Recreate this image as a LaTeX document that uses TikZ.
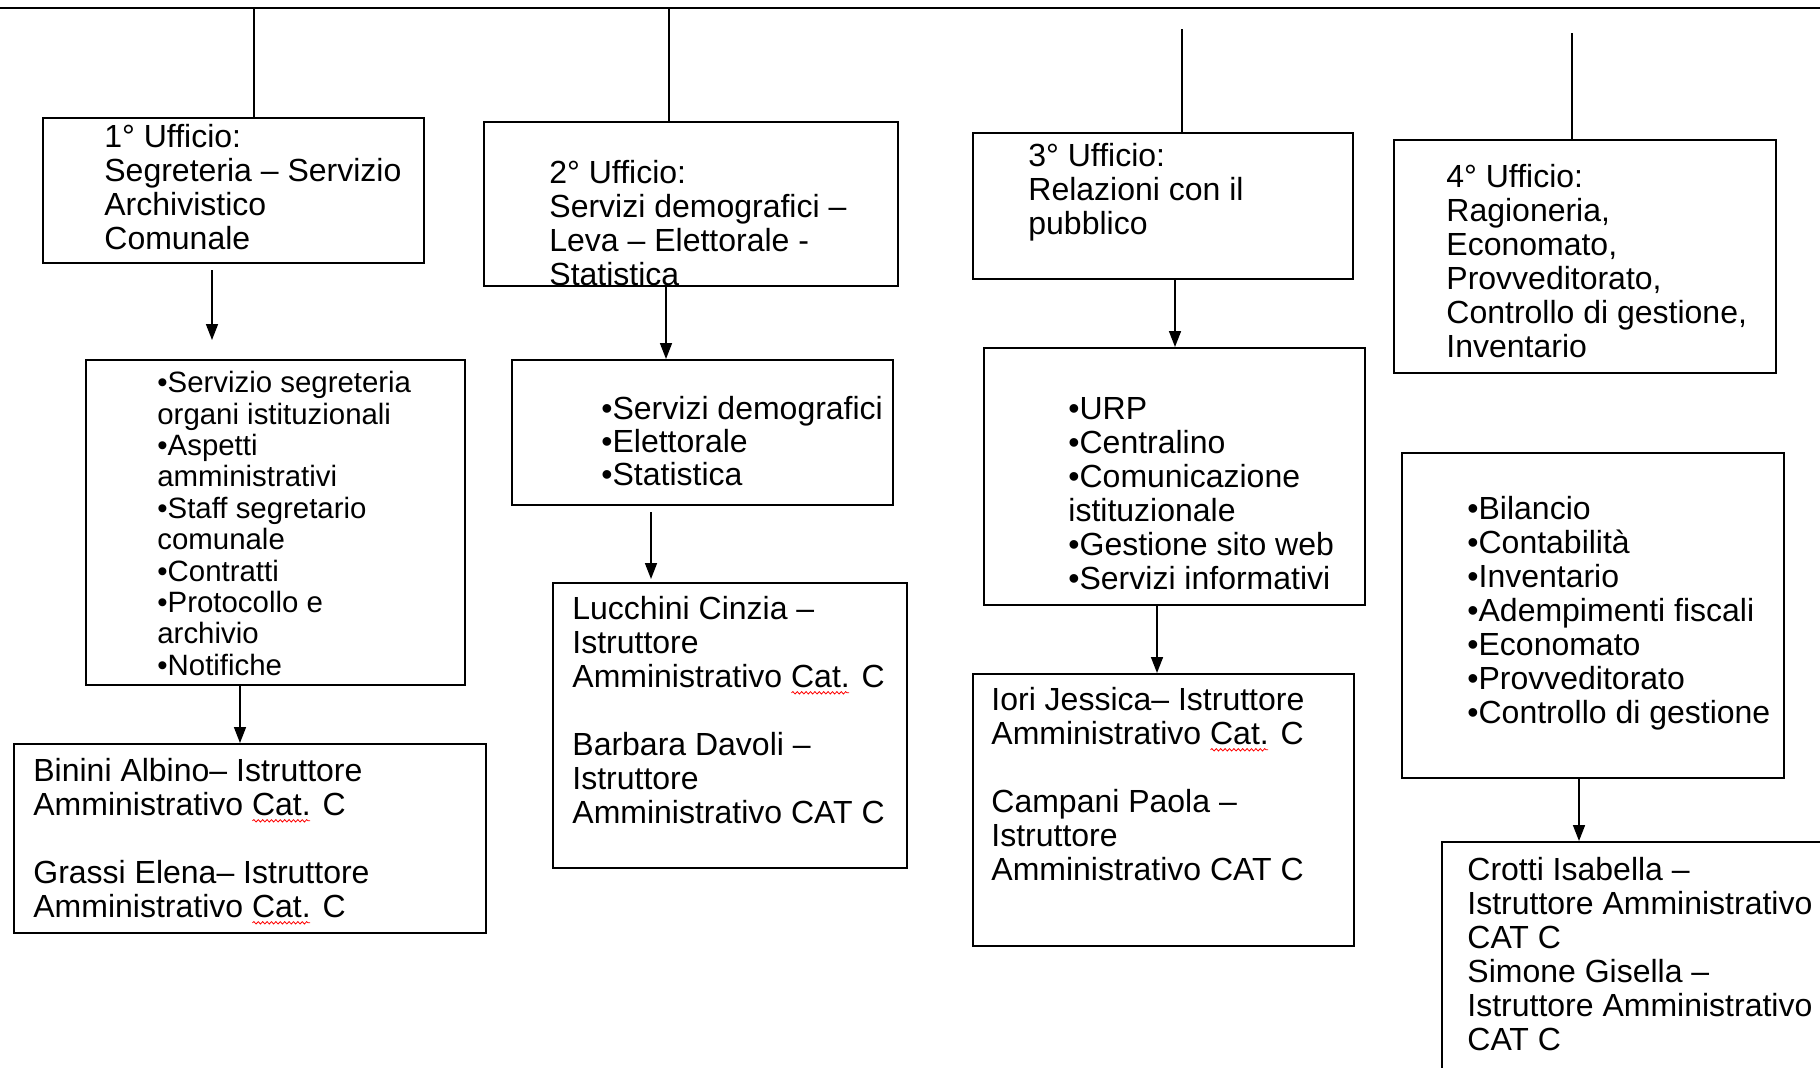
\documentclass[tikz,border=0pt]{standalone}
\usepackage{fontspec}
\setmainfont{Liberation Sans}
\usetikzlibrary{arrows.meta}
\usetikzlibrary{fit}
\usetikzlibrary{decorations.pathmorphing}
\tikzset{
	ufficio/.style={draw, line width=1pt, inner sep=0pt},
	uftext/.style={anchor=north west, inner sep=0pt, align=left, font=\fontsize{16}{17}\selectfont},
	collega/.style={line width=0.8pt},
	freccia/.style={line width=0.8pt, -{Triangle[length=8pt,width=6pt]}},
	ondina/.style={red, line width=0.4pt, decorate, decoration={snake, amplitude=0.6pt, segment length=2.2pt}}
}
\newlength{\spellwd}
\newcommand{\spellcat}[1]{\settowidth{\spellwd}{#1}\rlap{\tikz[baseline=0pt, x=1pt, y=1pt] \draw[ondina] (0.5pt,-2.6pt) -- (\spellwd,-2.6pt);}#1}

\begin{document}
\begin{tikzpicture}[x=0.5pt, y=-0.5pt]
				\clip (0,0) rectangle (1820,1067);
				\coordinate (lineaL) at (0,8);
				\coordinate (lineaR) at (1820,8);
				\draw[line width=1.2pt] (lineaL) -- (lineaR);
				% uffici
				\node[ufficio, fit={(43,118) (424,263)}] (uff1) {};
				\node[ufficio, fit={(484,122) (898,286)}] (uff2) {};
				\node[ufficio, fit={(973,133) (1353,279)}] (uff3) {};
				\node[ufficio, fit={(1394,140) (1776,373)}] (uff4) {};
				\node[ufficio, fit={(86,360) (465,685)}] (serv1) {};
				\node[ufficio, fit={(512,360) (893,505)}] (serv2) {};
				\node[ufficio, fit={(984,348) (1365,605)}] (serv3) {};
				\node[ufficio, fit={(1402,453) (1784,778)}] (serv4) {};
				\node[ufficio, fit={(14,744) (486,933)}] (pers1) {};
				\node[ufficio, fit={(553,583) (907,868)}] (pers2) {};
				\node[ufficio, fit={(973,674) (1354,946)}] (pers3) {};
				\node[ufficio, fit={(1442,842) (1840,1090)}] (pers4) {};
				% testi
				\node[uftext] (uff1t) at (104,124) {1° Ufficio:\\Segreteria – Servizio\\Archivistico\\Comunale};
				\node[uftext] (uff2t) at (549,160) {2° Ufficio:\\Servizi demografici –\\Leva – Elettorale -\\Statistica};
				\node[uftext] (uff3t) at (1028,143) {3° Ufficio:\\Relazioni con il\\pubblico};
				\node[uftext] (uff4t) at (1446,164) {4° Ufficio:\\Ragioneria,\\Economato,\\Provveditorato,\\Controllo di gestione,\\Inventario};
				\node[uftext, font=\fontsize{14.7}{15.7}\selectfont] (serv1t) at (157,371) {•Servizio segreteria\\organi istituzionali\\•Aspetti\\amministrativi\\•Staff segretario\\comunale\\•Contratti\\•Protocollo e\\archivio\\•Notifiche};
				\node[uftext, font=\fontsize{16}{16.5}\selectfont] (serv2t) at (601,396) {•Servizi demografici\\•Elettorale\\•Statistica};
				\node[uftext] (serv3t) at (1068,397) {•URP\\•Centralino\\•Comunicazione\\istituzionale\\•Gestione sito web\\•Servizi informativi};
				\node[uftext] (serv4t) at (1467,496) {•Bilancio\\•Contabilità\\•Inventario\\•Adempimenti fiscali\\•Economato\\•Provveditorato\\•Controllo di gestione};
				\node[uftext] (pers1t) at (33,758) {Binini Albino– Istruttore\\Amministrativo \spellcat{Cat.} C\\[17pt]Grassi Elena– Istruttore\\Amministrativo \spellcat{Cat.} C};
				\node[uftext] (pers2t) at (572,596) {Lucchini Cinzia –\\Istruttore\\Amministrativo \spellcat{Cat.} C\\[17pt]Barbara Davoli –\\Istruttore\\Amministrativo CAT C};
				\node[uftext] (pers3t) at (991,687) {Iori Jessica– Istruttore\\Amministrativo \spellcat{Cat.} C\\[17pt]Campani Paola –\\Istruttore\\Amministrativo CAT C};
				\node[uftext] (pers4t) at (1467,857) {Crotti Isabella –\\Istruttore Amministrativo\\CAT C\\Simone Gisella –\\Istruttore Amministrativo\\CAT C};
				% collegamenti
				\coordinate (cima1) at (254,8);
				\coordinate (cima2) at (669,8);
				\coordinate (cima3) at (1182,29);
				\coordinate (cima4) at (1572,33);
				\foreach \c/\u in {cima1/uff1, cima2/uff2, cima3/uff3, cima4/uff4}
					\draw[collega] (\c) -- (\c |- \u.north);
				\coordinate (f1) at (212,0);
				\coordinate (f2) at (666,0);
				\coordinate (f3) at (651,0);
				\coordinate (f4) at (240,0);
				\coordinate (f5) at (1175,0);
				\coordinate (f6) at (1157,0);
				\coordinate (f7) at (1579,0);
				\draw[freccia, shorten <=3pt, shorten >=9.5pt] (uff1.south -| f1) -- (serv1.north -| f1);
				\draw[freccia] (uff2.south -| f2) -- (serv2.north -| f2);
				\draw[freccia, shorten <=3pt, shorten >=1.5pt] (serv2.south -| f3) -- (pers2.north -| f3);
				\draw[freccia] (serv1.south -| f4) -- (pers1.north -| f4);
				\draw[freccia] (uff3.south -| f5) -- (serv3.north -| f5);
				\draw[freccia] (serv3.south -| f6) -- (pers3.north -| f6);
				\draw[freccia] (serv4.south -| f7) -- (pers4.north -| f7);
\end{tikzpicture}
\end{document}
